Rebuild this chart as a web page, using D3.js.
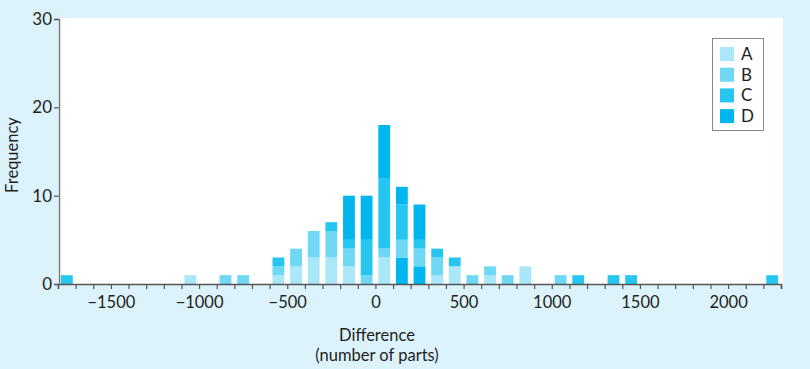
<!DOCTYPE html>
<html>
<head>
<meta charset="utf-8">
<script src="https://cdn.jsdelivr.net/npm/d3@7"></script>
<style>
  html, body { margin: 0; padding: 0; background: #dcf3fc; }
  svg { display: block; }
  text { font-family: Lato, "Open Sans", sans-serif; fill: #231f20; }
</style>
</head>
<body>
<svg id="chart" width="810" height="369"></svg>
<script>
// ---- data (bins of width 100; centers listed for non-empty bins) ----
const binCenters = [-1750, -1050, -850, -750, -550, -450, -350, -250, -150, -50, 50, 150, 250, 350, 450, 550, 650, 750, 850, 1050, 1150, 1350, 1450, 2250];
const seriesNames = ["A", "B", "C", "D"];
// D counts drawn at the base of the bar (as in the reference)
const valuesDLow = [0, 0, 0, 0, 0, 0, 0, 0, 0, 0, 0, 3, 2, 0, 0, 0, 0, 0, 0, 0, 0, 0, 0, 0];
const valuesA    = [0, 1, 0, 0, 1, 2, 3, 3, 2, 0, 3, 0, 0, 1, 2, 0, 1, 0, 2, 0, 0, 0, 0, 0];
const valuesB    = [0, 0, 1, 1, 1, 2, 3, 3, 2, 1, 1, 2, 2, 2, 0, 1, 1, 1, 0, 1, 0, 0, 0, 0];
const valuesC    = [1, 0, 0, 0, 1, 0, 0, 1, 1, 4, 8, 4, 1, 1, 1, 0, 0, 0, 0, 0, 1, 1, 1, 1];
const valuesD    = [0, 0, 0, 0, 0, 0, 0, 0, 5, 5, 6, 2, 4, 0, 0, 0, 0, 0, 0, 0, 0, 0, 0, 0];
const xMajorTicks = [-1500, -1000, -500, 0, 500, 1000, 1500, 2000];
const yTicks = [0, 10, 20, 30];
const colors = { A: "#aae7f9", B: "#6ed8f5", C: "#27c6f1", D: "#00b6ef", DLow: "#00b6ef" };

// ---- build table ----
const rows = binCenters.map((c, i) => ({
  center: c, DLow: valuesDLow[i], A: valuesA[i], B: valuesB[i], C: valuesC[i], D: valuesD[i]
}));
const keys = ["DLow", "A", "B", "C", "D"];
const stacked = d3.stack().keys(keys)(rows);

const svg = d3.select("#chart");
const plot = { left: 58, right: 781, top: 19, bottom: 284 };

const x = d3.scaleLinear().domain([-1800, 2300]).range([plot.left, plot.right]);
const y = d3.scaleLinear().domain([0, 30]).range([plot.bottom, plot.top]);
const binW = 100;
const barW = (x(binW) - x(0)) * 0.67;
const font = "Lato, 'Open Sans', sans-serif";

// plot background
svg.append("rect")
  .attr("x", plot.left).attr("y", plot.top - 1)
  .attr("width", plot.right - plot.left + 2).attr("height", plot.bottom - plot.top + 1)
  .attr("fill", "#ffffff");

// bars
const layer = svg.append("g").selectAll("g").data(stacked).join("g")
  .attr("fill", d => colors[d.key]);
layer.selectAll("rect").data(d => d.filter(s => s[1] > s[0])).join("rect")
  .attr("x", d => x(d.data.center) - barW / 2)
  .attr("width", barW)
  .attr("y", d => y(d[1]))
  .attr("height", d => y(d[0]) - y(d[1]));

// x axis
const minorTicks = d3.range(-1800, 2301, 100);
const xAxisG = svg.append("g").attr("transform", `translate(0,${plot.bottom})`);
xAxisG.call(d3.axisBottom(x).tickValues(minorTicks).tickSize(5).tickFormat(""))
  .call(g => g.select(".domain").attr("stroke", "#555").attr("stroke-width", 1.5))
  .call(g => g.selectAll(".tick line").attr("stroke", "#555").attr("stroke-width", 1.2));
const xLab = svg.append("g").attr("transform", `translate(0,${plot.bottom})`);
xLab.call(d3.axisBottom(x).tickValues(xMajorTicks).tickSize(0).tickPadding(12).tickFormat(d3.format("d")))
  .call(g => g.select(".domain").remove())
  .call(g => g.selectAll("text").attr("font-size", 16.5).attr("font-family", font).attr("fill", "#231f20"));

// y axis
const yAxisG = svg.append("g").attr("transform", `translate(${plot.left + 1},0)`);
yAxisG.call(d3.axisLeft(y).tickValues(yTicks).tickSize(5).tickPadding(2))
  .call(g => g.select(".domain").attr("stroke", "#777").attr("stroke-width", 1.5))
  .call(g => g.selectAll(".tick line").attr("stroke", "#555").attr("stroke-width", 1.2))
  .call(g => g.selectAll("text").attr("font-size", 17).attr("font-family", font).attr("fill", "#231f20"));

// axis titles
svg.append("text").attr("x", 377).attr("y", 341).attr("text-anchor", "middle")
  .attr("font-size", 16.5).text("Difference");
svg.append("text").attr("x", 377).attr("y", 361).attr("text-anchor", "middle")
  .attr("font-size", 16.5).text("(number of parts)");
svg.append("text").attr("transform", "translate(18,155) rotate(-90)").attr("text-anchor", "middle")
  .attr("font-size", 16.5).text("Frequency");

// legend
const lg = svg.append("g");
lg.append("rect").attr("x", 712.5).attr("y", 38.5).attr("width", 51).attr("height", 92)
  .attr("fill", "#fff").attr("stroke", "#888").attr("stroke-width", 1);
const li = lg.selectAll("g.item").data(seriesNames).join("g").attr("class", "item")
  .attr("transform", (d, i) => `translate(720,${47 + i * 20.7})`);
li.append("rect").attr("width", 14).attr("height", 14).attr("fill", d => colors[d]);
li.append("text").attr("x", 21).attr("y", 13).attr("font-size", 17).text(d => d);
</script>
</body>
</html>
